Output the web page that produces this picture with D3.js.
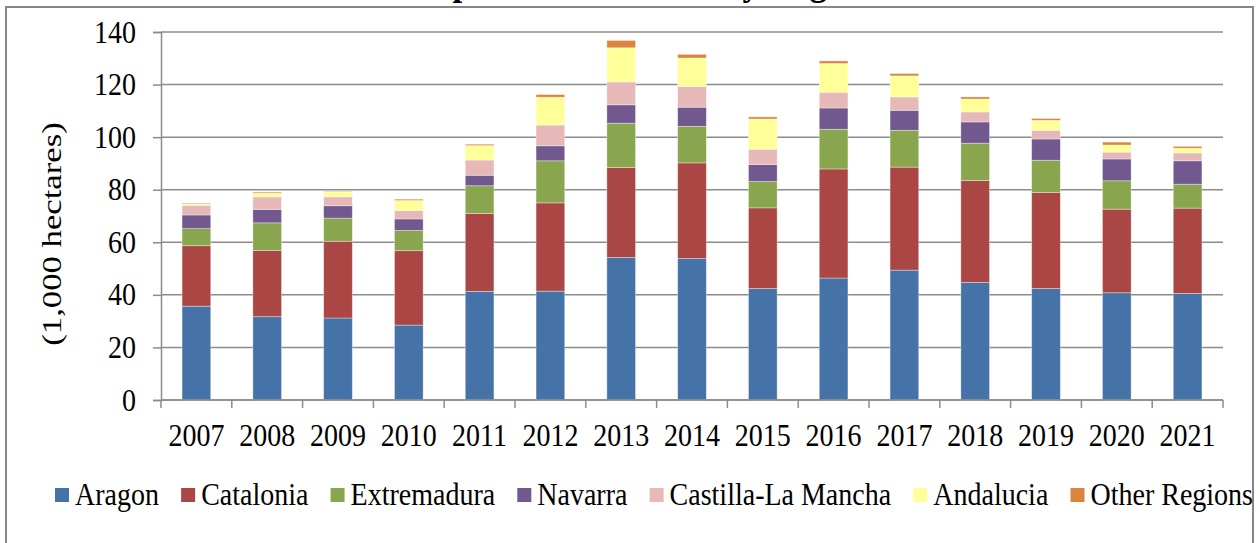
<!DOCTYPE html>
<html>
<head>
<meta charset="utf-8">
<script src="https://cdnjs.cloudflare.com/ajax/libs/d3/7.8.5/d3.min.js"></script>
<style>
  body { margin: 0; background: #fff; }
  svg { display: block; }
  text { font-family: "Liberation Serif", "Times New Roman", serif; fill: #000; }
</style>
</head>
<body>
<svg id="chart" width="1260" height="543"></svg>
<script>
//years on the x axis
var years = ["2007","2008","2009","2010","2011","2012","2013","2014","2015","2016","2017","2018","2019","2020","2021"];

//region names, in stacking order (bottom to top)
var regions = ["Aragon","Catalonia","Extremadura","Navarra","Castilla-La Mancha","Andalucia","Other Regions"];
var colors = ["#4572A7","#AA4643","#89A54E","#71588F","#E6B9B8","#FFFF99","#DB843D"];

//1,000 hectares per region, one value per year
var aragon      = [35.7,31.7,31.2,28.5,41.3,41.4,54.2,53.8,42.4,46.4,49.4,44.7,42.4,40.8,40.5];
var catalonia   = [23.0,25.2,29.2,28.3,29.7,33.6,34.2,36.4,30.7,41.5,39.2,38.8,36.5,31.8,32.5];
var extremadura = [6.5,10.5,8.8,7.7,10.5,16.0,16.9,13.9,10.0,15.1,14.0,14.2,12.3,10.8,9.1];
var navarra     = [5.2,5.1,4.7,4.4,4.0,5.7,7.0,7.3,6.5,8.1,7.6,8.1,8.1,8.3,8.9];
var castilla    = [3.7,4.8,3.4,3.2,5.8,7.9,8.7,7.9,5.8,6.0,5.1,3.8,3.3,2.6,3.0];
var andalucia   = [0.5,1.4,1.9,3.8,5.5,10.6,13.0,10.8,11.5,10.9,8.0,4.9,3.8,2.7,1.8];
var others      = [0.3,0.4,0.2,0.5,0.5,1.0,2.8,1.4,0.8,1.0,0.9,0.8,0.7,1.1,0.7];

var yTicks = [0,20,40,60,80,100,120,140];

//build a table the stack layout can use
var series = [aragon,catalonia,extremadura,navarra,castilla,andalucia,others];
var table = years.map(function(y,i){
	var row = {year: y};
	regions.forEach(function(r,j){ row[r] = series[j][i]; });
	return row;
});

//the original text is a bit taller than it is wide
var stretch = "scale(1,1.12)";

var svg = d3.select("#chart");

//outer frame of the chart (bottom edge is off the picture)
svg.append("rect")
	.attr("x",6).attr("y",7)
	.attr("width",1247).attr("height",600)
	.style("fill","none")
	.style("stroke","#868686")
	.style("stroke-width",2);

//title, mostly cut off at the top
svg.append("text")
	.attr("x",641).attr("y",-5)
	.attr("text-anchor","middle")
	.style("font-size","35px")
	.style("font-weight","bold")
	.text("Crop Area Harvested by Regions");

//plot area edges (not called top/left, those clash with window globals)
var plotL = 161, plotR = 1223, plotT = 32, plotB = 400;

var x = d3.scaleBand().domain(years).range([plotL,plotR]).padding(0);
var y = d3.scaleLinear().domain([0,140]).range([plotB,plotT]);

//horizontal gridlines
svg.append("g").selectAll("line")
	.data(yTicks)
	.enter().append("line")
	.attr("x1",plotL).attr("x2",plotR)
	.attr("y1",function(d){ return y(d); })
	.attr("y2",function(d){ return y(d); })
	.style("stroke","#8c8c8c")
	.style("stroke-width",1.5);

//y axis
var yAxis = svg.append("g")
	.attr("transform","translate("+plotL+",0)")
	.call(d3.axisLeft(y).tickValues(yTicks).tickSize(8).tickPadding(17));
yAxis.select(".domain").style("stroke","#8c8c8c").style("stroke-width",1.5);
yAxis.selectAll(".tick line").style("stroke","#8c8c8c").style("stroke-width",1.5);
yAxis.selectAll("text")
	.style("font-size","28px")
	.attr("dy","0.32em")
	.attr("transform",stretch);

//stacked bars
var stack = d3.stack().keys(regions)(table);
var barW = x.bandwidth()*0.405;

svg.append("g").selectAll("g")
	.data(stack)
	.enter().append("g")
	.style("fill",function(d,i){ return colors[i]; })
	.selectAll("rect")
	.data(function(d){ return d; })
	.enter().append("rect")
	.attr("x",function(d){ return x(d.data.year) + (x.bandwidth()-barW)/2; })
	.attr("width",barW)
	.attr("y",function(d){ return y(d[1]); })
	.attr("height",function(d){ return y(d[0]) - y(d[1]); })
	.style("stroke","#ffffff")
	.style("stroke-opacity",0.45)
	.style("stroke-width",0.8);

//x axis, ticks sit between the categories
var xAxis = svg.append("g").attr("transform","translate(0,"+plotB+")");
xAxis.append("line")
	.attr("x1",plotL).attr("x2",plotR)
	.style("stroke","#8c8c8c")
	.style("stroke-width",1.5);
xAxis.selectAll("line.tick")
	.data(years.concat(["end"]))
	.enter().append("line")
	.attr("class","tick")
	.attr("x1",function(d,i){ return plotL + i*x.step(); })
	.attr("x2",function(d,i){ return plotL + i*x.step(); })
	.attr("y1",0).attr("y2",8)
	.style("stroke","#8c8c8c")
	.style("stroke-width",1.5);
xAxis.selectAll("text")
	.data(years)
	.enter().append("text")
	.attr("transform",function(d){ return "translate("+(x(d) + x.bandwidth()/2)+",46) "+stretch; })
	.attr("text-anchor","middle")
	.style("font-size","28px")
	.text(function(d){ return d; });

//y axis title (stretched more along its length, like the original)
svg.append("text")
	.attr("transform","translate(61,234) scale(1,1.24) rotate(-90)")
	.attr("text-anchor","middle")
	.style("font-size","28px")
	.text("(1,000 hectares)");

//legend in one row, spread from x=55 to x=1253
var legend = svg.append("g");
var items = legend.selectAll("g")
	.data(regions)
	.enter().append("g");
items.append("rect")
	.attr("width",14).attr("height",14)
	.attr("y",488)
	.style("fill",function(d,i){ return colors[i]; });
items.append("text")
	.attr("transform","translate(20,505) "+stretch)
	.style("font-size","28px")
	.text(function(d){ return d; });

var widths = [];
items.each(function(){ widths.push(20 + d3.select(this).select("text").node().getComputedTextLength()); });
var gap = (1253 - 55 - d3.sum(widths)) / (widths.length-1);
var pos = 55;
items.attr("transform",function(d,i){
	var t = "translate("+pos+",0)";
	pos += widths[i] + gap;
	return t;
});
</script>
</body>
</html>
